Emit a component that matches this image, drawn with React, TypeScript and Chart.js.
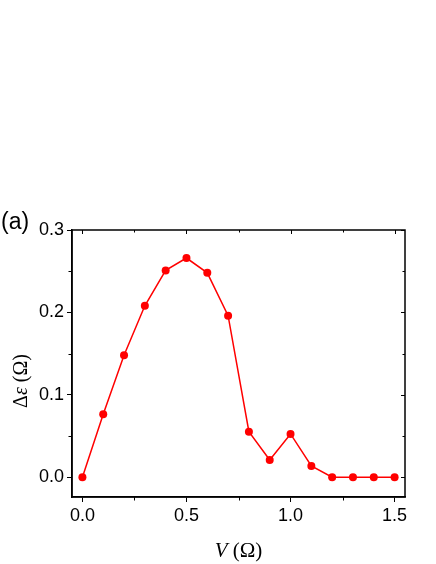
import React, { useEffect, useRef } from "react";
import { Chart, registerables } from "chart.js";

Chart.register(...registerables);

const X_VALUES = [0, 0.1, 0.2, 0.3, 0.4, 0.5, 0.6, 0.7, 0.8, 0.9, 1.0, 1.1, 1.2, 1.3, 1.4, 1.5];
const DELTA_EPS = [0, 0.0765, 0.148, 0.208, 0.251, 0.266, 0.248, 0.196, 0.0553, 0.021, 0.0525, 0.0137, 0, 0, 0, 0];
const X_TICKS = [0, 0.5, 1.0, 1.5];
const X_MINOR = [0.25, 0.75, 1.25];
const Y_TICKS = [0, 0.1, 0.2, 0.3];
const Y_MINOR = [0.05, 0.15, 0.25];
const PANEL_LABEL = "(a)";

const framePlugin = {
  id: "frame",
  afterDraw(chart: any) {
    const { ctx, chartArea: a, scales } = chart;
    const xs = scales.x;
    const ys = scales.y;
    ctx.save();
    ctx.strokeStyle = "#000";
    ctx.lineWidth = 1.5;
    ctx.strokeRect(a.left, a.top, a.right - a.left, a.bottom - a.top);
    ctx.lineWidth = 1;
    X_MINOR.forEach((v) => {
      const px = Math.round(xs.getPixelForValue(v)) + 0.5;
      ctx.beginPath();
      ctx.moveTo(px, a.bottom);
      ctx.lineTo(px, a.bottom + 3.5);
      ctx.stroke();
      ctx.beginPath();
      ctx.moveTo(px, a.top);
      ctx.lineTo(px, a.top + 2.5);
      ctx.stroke();
    });
    Y_MINOR.forEach((v) => {
      const py = Math.round(ys.getPixelForValue(v)) + 0.5;
      ctx.beginPath();
      ctx.moveTo(a.left, py);
      ctx.lineTo(a.left - 3.5, py);
      ctx.stroke();
      ctx.beginPath();
      ctx.moveTo(a.right, py);
      ctx.lineTo(a.right - 2.5, py);
      ctx.stroke();
    });
    X_TICKS.forEach((v) => {
      const px = Math.round(xs.getPixelForValue(v)) + 0.5;
      ctx.beginPath();
      ctx.moveTo(px, a.top);
      ctx.lineTo(px, a.top + 4);
      ctx.stroke();
    });
    Y_TICKS.forEach((v) => {
      const py = Math.round(ys.getPixelForValue(v)) + 0.5;
      ctx.beginPath();
      ctx.moveTo(a.right, py);
      ctx.lineTo(a.right - 4, py);
      ctx.stroke();
    });

    ctx.fillStyle = "#000";
    ctx.font = "23px 'Liberation Sans', Arial, sans-serif";
    ctx.textAlign = "left";
    ctx.textBaseline = "alphabetic";
    ctx.fillText(PANEL_LABEL, 1, 229);

    const serif = "'Liberation Serif', 'Times New Roman', serif";
    const drawParts = (parts: { t: string; it: boolean }[], size: number) => {
      let w = 0;
      parts.forEach((p) => {
        ctx.font = `${p.it ? "italic " : ""}${size}px ${serif}`;
        w += ctx.measureText(p.t).width;
      });
      let x = -w / 2;
      parts.forEach((p) => {
        ctx.font = `${p.it ? "italic " : ""}${size}px ${serif}`;
        ctx.fillText(p.t, x, 0);
        x += ctx.measureText(p.t).width;
      });
    };
    ctx.save();
    ctx.translate((a.left + a.right) / 2, 557);
    drawParts(
      [
        { t: "V", it: true },
        { t: " (Ω)", it: false },
      ],
      21
    );
    ctx.restore();

    ctx.save();
    ctx.translate(27, 381);
    ctx.rotate(-Math.PI / 2);
    drawParts(
      [
        { t: "Δ", it: false },
        { t: "ε", it: true },
        { t: " (Ω)", it: false },
      ],
      20
    );
    ctx.restore();
    ctx.restore();
  },
};

export default function App() {
  const ref = useRef<HTMLCanvasElement>(null);
  useEffect(() => {
    if (!ref.current) return;
    const chart = new Chart(ref.current, {
      type: "line",
      data: {
        datasets: [
          {
            data: X_VALUES.map((x, i) => ({ x, y: DELTA_EPS[i] })),
            borderColor: "#ff0000",
            backgroundColor: "#ff0000",
            borderWidth: 1.5,
            pointRadius: 4,
            pointBorderWidth: 0,
            pointBackgroundColor: "#ff0000",
            tension: 0,
          },
        ],
      },
      plugins: [framePlugin],
      options: {
        animation: false,
        responsive: false,
        devicePixelRatio: 1,
        layout: { padding: { top: 230, right: 31, left: 0, bottom: 0 } },
        plugins: { legend: { display: false }, tooltip: { enabled: false } },
        scales: {
          x: {
            type: "linear",
            min: -0.05,
            max: 1.55,
            afterBuildTicks: (s: any) => {
              s.ticks = X_TICKS.map((v) => ({ value: v }));
            },
            afterFit: (s: any) => {
              s.height = 67;
            },
            grid: { display: true, drawOnChartArea: false, drawTicks: true, tickLength: 5, color: "#000", lineWidth: 1 },
            border: { display: true, color: "#000", width: 1.5 },
            ticks: {
              color: "#000",
              padding: 3,
              maxRotation: 0,
              font: { family: "'Liberation Sans', Arial, sans-serif", size: 18 },
              callback: (v: any) => Number(v).toFixed(1),
            },
          },
          y: {
            type: "linear",
            min: -0.024,
            max: 0.3,
            afterBuildTicks: (s: any) => {
              s.ticks = Y_TICKS.map((v) => ({ value: v }));
            },
            afterFit: (s: any) => {
              s.width = 72;
            },
            grid: { display: true, drawOnChartArea: false, drawTicks: true, tickLength: 5, color: "#000", lineWidth: 1 },
            border: { display: true, color: "#000", width: 1.5 },
            ticks: {
              color: "#000",
              padding: 3,
              font: { family: "'Liberation Sans', Arial, sans-serif", size: 18 },
              callback: (v: any) => Number(v).toFixed(1),
            },
          },
        },
      },
    } as any);
    return () => chart.destroy();
  }, []);
  return (
    <div style={{ position: "fixed", left: 0, top: 0, width: 436, height: 564, background: "#fff" }}>
      <canvas ref={ref} width={436} height={564} style={{ width: 436, height: 564 }} />
    </div>
  );
}
